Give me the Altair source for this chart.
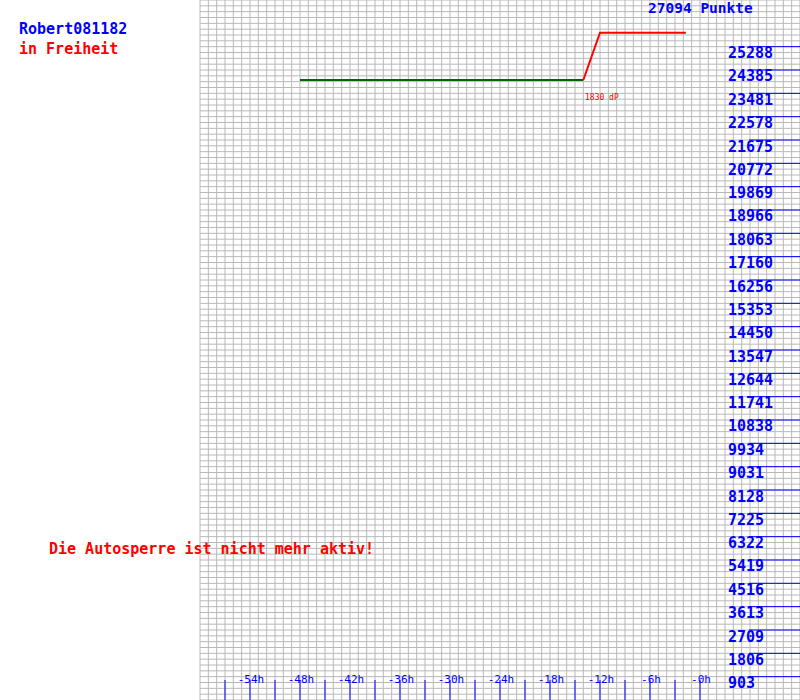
import altair as alt
import pandas as pd

# ---- data ----
max_points = 27094
grid_hours = list(range(-60, 13))               # one vertical grid line per hour
grid_rows = 120                                  # horizontal grid rows
tick_hours = list(range(-57, 1, 3))              # blue ticks on the time axis
label_hours = [-54, -48, -42, -36, -30, -24, -18, -12, -6, 0]
label_texts = ["-54h", "-48h", "-42h", "-36h", "-30h", "-24h", "-18h", "-12h", "-6h", "-0h"]
y_labels = [903, 1806, 2709, 3613, 4516, 5419, 6322, 7225, 8128, 9031, 9934,
            10838, 11741, 12644, 13547, 14450, 15353, 16256, 17160, 18063,
            18966, 19869, 20772, 21675, 22578, 23481, 24385, 25288]

seg_hours = [-48, -14, -14, -12, -1.7]
seg_points = [23997, 23997, 23997, 25827, 25827]
seg_state = ["green", "green", "red", "red", "red"]

player = "Robert081182"
status = "in Freiheit"
notice = "Die Autosperre ist nicht mehr aktiv!"
gain = "1830 dP"

FONT = "DejaVu Sans Mono"

xs = alt.Scale(domain=[-84, 12], range=[0, 800], nice=False, zero=False)
ys = alt.Scale(domain=[0, max_points], range=[700, 0], nice=False, zero=False)

vgrid = pd.DataFrame({"h": grid_hours})
hgrid = pd.DataFrame({"v": [k * max_points / grid_rows for k in range(grid_rows + 1)]})
hgrid["x0"] = -60
hgrid["x1"] = 12

GRID = "#b8b8b8"
vlines = alt.Chart(vgrid).mark_rule(color=GRID, strokeWidth=1).encode(
    x=alt.X("h:Q", scale=xs, axis=None),
    y=alt.value(0), y2=alt.value(700))
hlines = alt.Chart(hgrid).mark_rule(color=GRID, strokeWidth=1).encode(
    y=alt.Y("v:Q", scale=ys, axis=None),
    x=alt.X("x0:Q", scale=xs, axis=None), x2="x1:Q")

ydf = pd.DataFrame({"v": y_labels, "t": [str(v) for v in y_labels]})
yticks = alt.Chart(ydf).mark_rule(color="#0000ff", strokeWidth=1).encode(
    y=alt.Y("v:Q", scale=ys, axis=None),
    x=alt.value(749), x2=alt.value(800))
ytext = alt.Chart(ydf).mark_text(
    align="left", baseline="alphabetic", dy=11.5, font=FONT, fontSize=15,
    fontWeight="bold", color="#0000ff").encode(
    y=alt.Y("v:Q", scale=ys, axis=None), x=alt.value(728), text="t:N")

xtdf = pd.DataFrame({"h": tick_hours})
xticks = alt.Chart(xtdf).mark_rule(color="#0000ff", strokeWidth=1).encode(
    x=alt.X("h:Q", scale=xs, axis=None),
    y=alt.value(680), y2=alt.value(700))
xldf = pd.DataFrame({"h": label_hours, "t": label_texts})
xtext = alt.Chart(xldf).mark_text(
    align="center", baseline="alphabetic", font=FONT, fontSize=11,
    fontWeight="normal", color="#0000ff", dx=1).encode(
    x=alt.X("h:Q", scale=xs, axis=None), y=alt.value(682.5), text="t:N")

sdf = pd.DataFrame({"h": seg_hours, "p": seg_points, "s": seg_state,
                    "o": list(range(len(seg_hours)))})
lines = alt.Chart(sdf).mark_line(strokeWidth=2).encode(
    x=alt.X("h:Q", scale=xs, axis=None),
    y=alt.Y("p:Q", scale=ys, axis=None),
    color=alt.Color("s:N", scale=alt.Scale(domain=["green", "red"],
                                           range=["#006400", "#ff0000"]), legend=None),
    order="o:Q")

def label(txt, x, y, color, size=15, weight="bold"):
    return alt.Chart(pd.DataFrame({"t": [txt]})).mark_text(
        align="left", baseline="alphabetic", font=FONT, fontSize=size,
        fontWeight=weight, color=color).encode(
        x=alt.value(x), y=alt.value(y), text="t:N")

texts = [
    label(f"{max_points} Punkte", 648, 13, "#0000ff", size=14.5),
    label(player, 19, 33.5, "#0000ff"),
    label(status, 19, 53.5, "#ff0000"),
    label(notice, 49, 553.5, "#ff0000"),
    label(gain, 585, 100, "#ff0000", size=8, weight="normal"),
]

chart = alt.layer(vlines, hlines, lines, yticks, ytext, xticks, xtext, *texts).properties(
    width=800, height=700,
    autosize=alt.AutoSizeParams(type="none"),
    padding=0, background="white",
).configure_view(stroke=None)

chart.save("out.html", embed_options={"renderer": "svg", "actions": False})
